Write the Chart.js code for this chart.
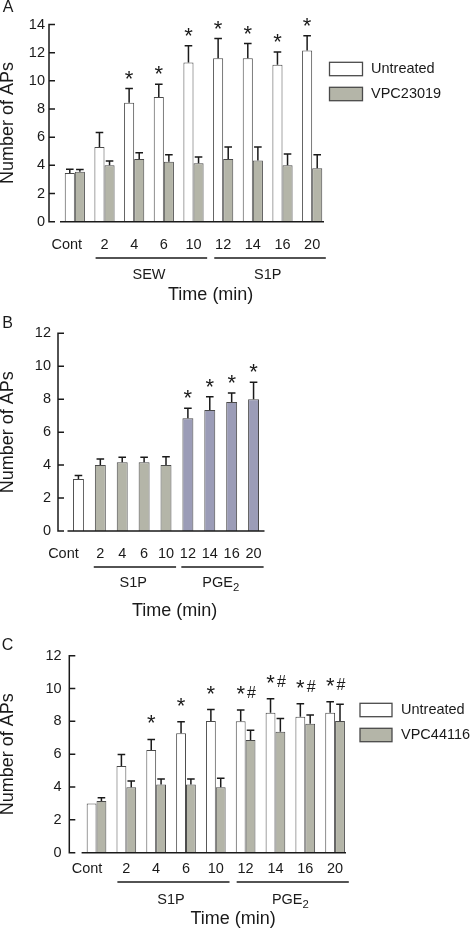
<!DOCTYPE html>
<html><head><meta charset="utf-8">
<script src="https://cdn.jsdelivr.net/npm/chart.js@4.4.1/dist/chart.umd.min.js"></script>
<style>
html,body{margin:0;padding:0;background:#fff;}
body{position:relative;width:472px;height:931px;overflow:hidden;}
canvas{position:absolute;left:0;top:0;}
</style></head><body>
<canvas id="chartA" width="472" height="931"></canvas>
<canvas id="chartB" width="472" height="931"></canvas>
<canvas id="chartC" width="472" height="931"></canvas>
<script>
// ---------------- DATA ----------------
const timeLabels = ['Cont', '2', '4', '6', '10', '12', '14', '16', '20'];

// Panel A
const yTicksA = [0, 2, 4, 6, 8, 10, 12, 14];
const untreatedA    = [3.45, 5.3, 8.45, 8.85, 11.3, 11.6, 11.6, 11.15, 12.15];
const untreatedErrA = [0.28, 1.03, 1.0, 0.9, 1.2, 1.4, 1.05, 0.9, 1.05];
const vpc23019A     = [3.55, 4.0, 4.45, 4.25, 4.15, 4.45, 4.35, 4.0, 3.8];
const vpc23019ErrA  = [0.15, 0.31, 0.45, 0.5, 0.45, 0.85, 0.95, 0.8, 0.95];
const starA = [0, 0, 1, 1, 1, 1, 1, 1, 1];
const groupNamesA = ['SEW', 'S1P'];
const groupRangesA = [[1, 4], [5, 8]];

// Panel B
const yTicksB = [0, 2, 4, 6, 8, 10, 12];
const treatmentB = ['Cont', 'S1P', 'S1P', 'S1P', 'S1P', 'PGE2', 'PGE2', 'PGE2', 'PGE2'];
const valuesB = [3.15, 4.0, 4.17, 4.17, 4.0, 6.85, 7.35, 7.83, 8.0];
const errB    = [0.22, 0.37, 0.3, 0.3, 0.5, 0.6, 0.8, 0.55, 1.03];
const starB = [0, 0, 0, 0, 0, 1, 1, 1, 1];
const groupNamesB = ['S1P', 'PGE2'];
const groupRangesB = [[1, 4], [5, 8]];

// Panel C
const yTicksC = [0, 2, 4, 6, 8, 10, 12];
const untreatedC    = [3.0, 5.28, 6.25, 7.27, 8.02, 8.0, 8.53, 8.28, 8.53];
const untreatedErrC = [0, 0.7, 0.65, 0.7, 0.7, 0.7, 0.85, 0.8, 0.67];
const vpc44116C     = [3.15, 3.98, 4.16, 4.16, 3.98, 6.86, 7.37, 7.86, 8.02];
const vpc44116ErrC  = [0.2, 0.38, 0.33, 0.33, 0.55, 0.6, 0.8, 0.53, 1.02];
const starC = [0, 0, 1, 1, 1, 1, 1, 1, 1];
const hashC = [0, 0, 0, 0, 0, 1, 1, 1, 1];
const groupNamesC = ['S1P', 'PGE2'];
const groupRangesC = [[1, 4], [5, 8]];

// ---------------- STYLE ----------------
const FONT = "'Liberation Sans', Arial, Helvetica, sans-serif";
const INK = '#1a1a1a';
const EDGE = '#4a4a4a';
const FILL = { Cont: '#ffffff', Untreated: '#ffffff', S1P: '#b4b5a8', VPC: '#b4b5a8', PGE2: '#9b9cb7' };
Chart.defaults.font.family = FONT;
Chart.defaults.color = INK;

function drawLabel(ctx, text, cx, cy, size) {
  const m = /^([A-Z]+)(\d)$/.exec(text);
  ctx.textBaseline = 'middle';
  if (!m) {
    ctx.font = size + 'px ' + FONT; ctx.textAlign = 'center';
    ctx.fillText(text, cx, cy);
    return;
  }
  ctx.font = size + 'px ' + FONT;
  const w1 = ctx.measureText(m[1]).width;
  ctx.font = (size * 0.78) + 'px ' + FONT;
  const w2 = ctx.measureText(m[2]).width;
  const x0 = cx - (w1 + w2) / 2;
  ctx.textAlign = 'left';
  ctx.font = size + 'px ' + FONT;
  ctx.fillText(m[1], x0, cy);
  ctx.font = (size * 0.78) + 'px ' + FONT;
  ctx.fillText(m[2], x0 + w1, cy + size * 0.36);
}

function drawSymbol(ctx, sym, cx, cy, size) {
  ctx.font = size + 'px ' + FONT;
  ctx.textAlign = 'center';
  ctx.textBaseline = 'alphabetic';
  const m = ctx.measureText(sym);
  const off = (m.actualBoundingBoxAscent - m.actualBoundingBoxDescent) / 2;
  ctx.fillText(sym, cx, cy + off);
}

function decorPlugin(spec) {
  return {
    id: 'decor' + spec.letter,
    beforeDraw(chart) {
      // shift the first ("Cont") category label as in the original figure
      const x = chart.scales.x;
      const items = x.getLabelItems(chart.chartArea);
      if (items.length && !items[0]._shifted) {
        items[0].options.translation[0] += spec.layout.contDx;
        items[0]._shifted = true;
      }
    },
    afterDatasetsDraw(chart) {
      const ctx = chart.ctx, ca = chart.chartArea, x = chart.scales.x, y = chart.scales.y;
      const L = spec.layout;
      const y0 = y.getPixelForValue(0);
      ctx.save();
      ctx.fillStyle = INK;
      ctx.strokeStyle = INK;
      // error bars (upper only)
      const errTop = [];
      spec.series.forEach((s, di) => {
        const meta = chart.getDatasetMeta(di);
        meta.data.forEach((bar, i) => {
          const yt = y.getPixelForValue(s.data[i] + (s.err[i] || 0));
          errTop[i] = Math.min(errTop[i] === undefined ? Infinity : errTop[i], yt);
          if (!s.err[i]) return;
          ctx.lineWidth = 1.5;
          ctx.beginPath();
          ctx.moveTo(bar.x, bar.y); ctx.lineTo(bar.x, yt);
          ctx.moveTo(bar.x - 3.8, yt); ctx.lineTo(bar.x + 3.8, yt);
          ctx.stroke();
        });
      });
      // axes
      ctx.lineWidth = 1.5;
      ctx.beginPath();
      ctx.moveTo(ca.left, y0); ctx.lineTo(ca.right - L.xAxisInset, y0);
      const ax = ca.left - L.yGap;
      ctx.moveTo(ax, y.getPixelForValue(y.max) - 0.75); ctx.lineTo(ax, y0 + 0.75);
      y.ticks.forEach(t => {
        const py = y.getPixelForValue(t.value);
        ctx.moveTo(ax, py); ctx.lineTo(ax + 6, py);
      });
      ctx.stroke();
      // significance marks
      const m0 = chart.getDatasetMeta(0).data;
      const m1 = spec.series.length > 1 ? chart.getDatasetMeta(1).data : null;
      spec.stars.forEach((v, i) => {
        if (!v) return;
        drawSymbol(ctx, '*', m0[i].x, errTop[i] - L.sigGap, 22);
      });
      if (spec.hashes) spec.hashes.forEach((v, i) => {
        if (!v) return;
        drawSymbol(ctx, '#', m1[i].x + 1, errTop[i] - L.sigGap + 2, 16);
      });
      // group brackets
      const w = x.getPixelForValue(1) - x.getPixelForValue(0);
      let bMin = Infinity, bMax = -Infinity;
      ctx.lineWidth = 1.5;
      spec.groupNames.forEach((name, gi) => {
        const [a, b] = spec.groupRanges[gi];
        const xs = x.getPixelForValue(a) - 0.3 * w, xe = x.getPixelForValue(b) + 0.46 * w;
        bMin = Math.min(bMin, xs); bMax = Math.max(bMax, xe);
        ctx.beginPath();
        ctx.moveTo(xs, y0 + L.bracketDy); ctx.lineTo(xe, y0 + L.bracketDy);
        ctx.stroke();
        drawLabel(ctx, name, (x.getPixelForValue(a) + x.getPixelForValue(b)) / 2, y0 + L.labelDy, 14.5);
      });
      // x-axis title
      ctx.font = '18px ' + FONT; ctx.textAlign = 'center'; ctx.textBaseline = 'middle';
      ctx.fillText('Time (min)', (bMin + bMax) / 2 + (L.titleDx || 0), y0 + L.titleDy);
      // panel letter
      ctx.font = '16px ' + FONT;
      ctx.fillText(spec.letter, L.letterX, L.letterY);
      // legend
      if (spec.legend) {
        const G = spec.legend;
        spec.series.forEach((s, i) => {
          const cy = G.y + i * G.step;
          ctx.fillStyle = s.legendColor;
          ctx.fillRect(G.x, cy - G.h / 2, G.w, G.h);
          ctx.lineWidth = 1.3; ctx.strokeStyle = EDGE;
          ctx.strokeRect(G.x, cy - G.h / 2, G.w, G.h);
          ctx.fillStyle = INK;
          ctx.font = '14.5px ' + FONT; ctx.textAlign = 'left'; ctx.textBaseline = 'middle';
          ctx.fillText(s.label, G.textX, cy);
        });
      }
      ctx.restore();
    }
  };
}

function makePanel(id, spec) {
  const L = spec.layout;
  const ticks = spec.yTicks;
  new Chart(document.getElementById(id), {
    type: 'bar',
    data: {
      labels: timeLabels,
      datasets: spec.series.map(s => ({
        label: s.label, data: s.data,
        backgroundColor: s.colors, borderColor: EDGE, borderWidth: 1,
        categoryPercentage: spec.catPct, barPercentage: spec.barPct
      }))
    },
    options: {
      responsive: false, animation: false, events: [],
      layout: { padding: { top: L.top, right: 472 - L.right, left: 0, bottom: 0 } },
      plugins: { legend: { display: false }, tooltip: { enabled: false } },
      scales: {
        x: {
          grid: { display: false, drawTicks: false }, border: { display: false },
          ticks: { padding: L.xLabelPad, maxRotation: 0, minRotation: 0, autoSkip: false, font: { size: 14.5 }, color: INK },
          afterFit: s => { s.height = 931 - L.bottom; }
        },
        y: {
          min: ticks[0], max: ticks[ticks.length - 1],
          grid: { display: false, drawTicks: false }, border: { display: false },
          ticks: { stepSize: ticks[1] - ticks[0], padding: L.yLabelPad, font: { size: 14.5 }, color: INK },
          afterFit: s => { s.width = L.left; },
          title: { display: true, text: 'Number of APs', font: { size: 18 }, padding: { top: -3, bottom: 0 }, color: INK }
        }
      }
    },
    plugins: [decorPlugin(spec)]
  });
}

makePanel('chartA', {
  letter: 'A', yTicks: yTicksA, catPct: 0.68, barPct: 1.0,
  series: [
    { label: 'Untreated', data: untreatedA, err: untreatedErrA, colors: FILL.Untreated, legendColor: FILL.Untreated },
    { label: 'VPC23019', data: vpc23019A, err: vpc23019ErrA, colors: FILL.VPC, legendColor: FILL.VPC }
  ],
  stars: starA, groupNames: groupNamesA, groupRanges: groupRangesA,
  legend: { x: 329.5, y: 69, step: 25, w: 33, h: 13.4, textX: 371 },
  layout: { top: 24.5, bottom: 221.7, left: 60, right: 327, yGap: 11, yLabelPad: 15, xLabelPad: 14.6, contDx: -8,
            xAxisInset: 3, bracketDy: 36.3, labelDy: 53.3, titleDy: 73, sigGap: 14, letterX: 8, letterY: 7.5 }
});

makePanel('chartB', {
  letter: 'B', yTicks: yTicksB, catPct: 1.0, barPct: 0.5,
  series: [
    { label: 'Number of APs', data: valuesB, err: errB, colors: treatmentB.map(t => FILL[t]) }
  ],
  stars: starB, groupNames: groupNamesB, groupRanges: groupRangesB,
  layout: { top: 333.3, bottom: 531, left: 67.5, right: 264.5, yGap: 9.5, yLabelPad: 16.5, xLabelPad: 14.3, contDx: -15,
            xAxisInset: 0, bracketDy: 36, labelDy: 52, titleDy: 80, titleDx: -4, sigGap: 14, letterX: 7.5, letterY: 324 }
});

makePanel('chartC', {
  letter: 'C', yTicks: yTicksC, catPct: 0.66, barPct: 1.0,
  series: [
    { label: 'Untreated', data: untreatedC, err: untreatedErrC, colors: FILL.Untreated, legendColor: FILL.Untreated },
    { label: 'VPC44116', data: vpc44116C, err: vpc44116ErrC, colors: FILL.VPC, legendColor: FILL.VPC }
  ],
  stars: starC, hashes: hashC, groupNames: groupNamesC, groupRanges: groupRangesC,
  legend: { x: 360, y: 710, step: 25, w: 32, h: 13.4, textX: 401 },
  layout: { top: 655.7, bottom: 852.7, left: 81.6, right: 350, yGap: 12.3, yLabelPad: 20, xLabelPad: 7.6, contDx: -9.5,
            xAxisInset: 4, bracketDy: 29.3, labelDy: 47.3, titleDy: 66.5, sigGap: 20, letterX: 7.5, letterY: 646 }
});
</script>
</body></html>
